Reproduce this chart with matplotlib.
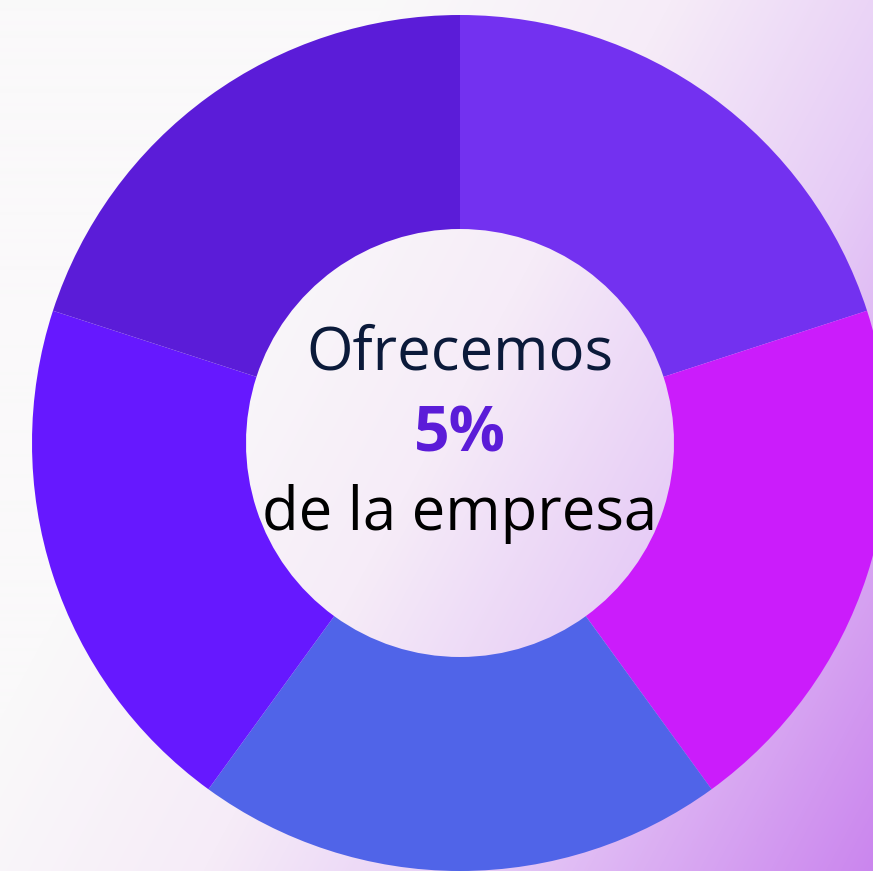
import numpy as np
import matplotlib
matplotlib.use("Agg")
import matplotlib.pyplot as plt
from matplotlib.colors import LinearSegmentedColormap

# Data
segments = ["Segmento 1", "Segmento 2", "Segmento 3", "Segmento 4", "Segmento 5"]
values = [20, 20, 20, 20, 20]
colors = ["#7331F0", "#CB1CFB", "#5064E8", "#6618FF", "#5B1CD8"]
line1 = "Ofrecemos"
line2 = "5%"
line3 = "de la empresa"

W, H = 873, 871
DPI = 100
fig = plt.figure(figsize=(W / DPI, H / DPI), dpi=DPI)
fig.patch.set_facecolor("#FAFAFA")

# background gradient
bg = fig.add_axes([0, 0, 1, 1])
bg.set_axis_off()
xx, yy = np.meshgrid(np.arange(W), np.arange(H))
t = np.clip((xx * 1.3 + yy * 0.7 - 500) / 1240.0, 0, 1)
cmap = LinearSegmentedColormap.from_list(
    "bgc", [(0, "#FAF9FA"), (0.3, "#F6ECF8"), (0.6, "#E6CBF6"), (1.0, "#CB86EE")])
bg.imshow(t, cmap=cmap, vmin=0, vmax=1, extent=(0, W, H, 0), aspect="auto",
          interpolation="bilinear")
bg.set_xlim(0, W)
bg.set_ylim(H, 0)

# donut
cx, cy, R = 460, 443, 428
ax = fig.add_axes([0, 0, 1, 1])
ax.patch.set_alpha(0)
ax.pie(values, colors=colors, startangle=90, counterclock=False, radius=1.0,
       wedgeprops=dict(width=0.5, linewidth=0))
ax.set_xlim(-cx / R, (W - cx) / R)
ax.set_ylim(-(H - cy) / R, cy / R)
ax.set_aspect("auto")
ax.set_axis_off()

fam = ["Open Sans", "DejaVu Sans"]
def ypos(py):
    return 1 - py / H
fig.text(cx / W, ypos(370), line1, ha="center", va="baseline", fontsize=43,
         color="#0B1A3A", family=fam)
fig.text(cx / W, ypos(451), line2, ha="center", va="baseline", fontsize=45,
         color="#5B1CD8", family=fam, fontweight="bold")
fig.text(cx / W, ypos(530), line3, ha="center", va="baseline", fontsize=43,
         color="#000000", family=fam)

fig.savefig("out.png", dpi=DPI)
